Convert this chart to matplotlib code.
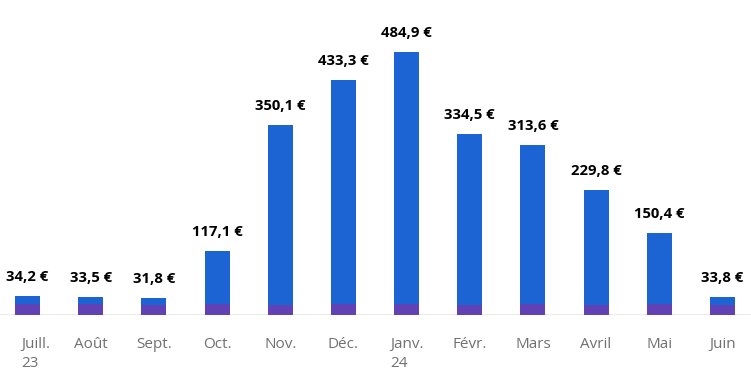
import matplotlib
matplotlib.use("Agg")
import matplotlib.pyplot as plt
from matplotlib.transforms import ScaledTranslation
import numpy as np

months = ["Juill.\n23", "Août", "Sept.", "Oct.", "Nov.", "Déc.", "Janv.\n24",
          "Févr.", "Mars", "Avril", "Mai", "Juin"]
totals = [34.2, 33.5, 31.8, 117.1, 350.1, 433.3, 484.9, 334.5, 313.6, 229.8, 150.4, 33.8]
# part violette en bas de chaque barre (estimee a l'oeil)
base_part = [20.5, 20.5, 18.5, 20.5, 18.5, 20.5, 20.5, 18.5, 20.5, 18.5, 20.5, 18.5]

BLUE = "#1C64D4"
PURPLE = "#6042B5"

plt.rcParams["font.family"] = ["Open Sans", "DejaVu Sans"]

fig = plt.figure(figsize=(7.51, 3.74), dpi=100)
ax = fig.add_axes([0, 59/374, 1, 315/374])

x = np.arange(len(months))
top_part = [t - b for t, b in zip(totals, base_part)]
w = 0.396
ax.bar(x, base_part, width=w, color=PURPLE, zorder=2)
ax.bar(x, top_part, width=w, bottom=base_part, color=BLUE, zorder=2)

for xi, t in zip(x, totals):
    lbl = f"{t:.1f} €".replace(".", ",")
    ax.annotate(lbl, (xi, t), xytext=(0, 10.8), textcoords="offset points",
                ha="center", va="baseline", fontsize=10.7, fontweight="bold", color="black")

ax.set_xlim(-0.435, 11.452)
ax.set_ylim(0, 580.8)
ax.axhline(0, color="#e5e5e5", lw=1.2, zorder=1)

ax.set_xticks(x)
ax.set_xticklabels(months, fontsize=11, color="#707070", linespacing=1.45)
ax.tick_params(axis="x", length=0, pad=15.5)
for lab in ax.get_xticklabels():
    lab.set_multialignment("left")
# le premier libelle est decale vers la droite pour ne pas sortir du cadre
first = ax.get_xticklabels()[0]
first.set_transform(first.get_transform() + ScaledTranslation(0.085, 0, fig.dpi_scale_trans))
ax.set_yticks([])
for s in ax.spines.values():
    s.set_visible(False)

fig.savefig("out.png", dpi=100)
